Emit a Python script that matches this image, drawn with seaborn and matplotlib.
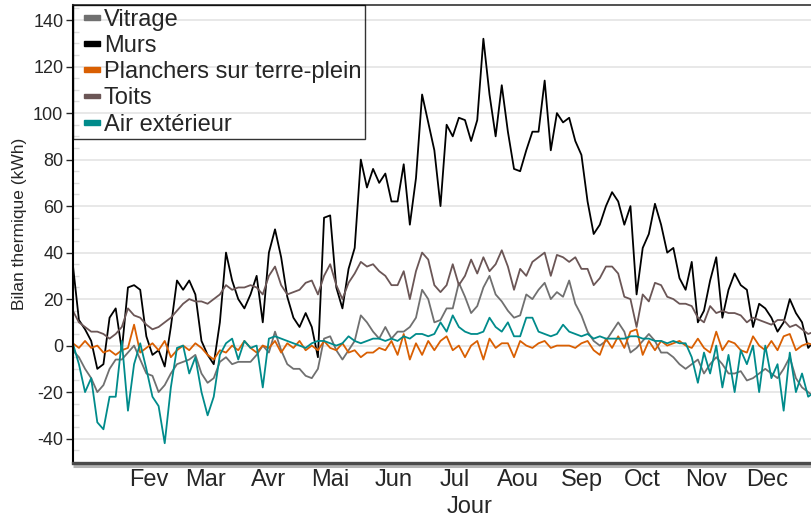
import numpy as np
import pandas as pd
import matplotlib
matplotlib.use('Agg')
import matplotlib.pyplot as plt
import seaborn as sns
from matplotlib.patches import Rectangle
from matplotlib.legend_handler import HandlerPatch
from matplotlib.ticker import MultipleLocator
from matplotlib.transforms import offset_copy

# jour de l'année (0 = 1er janvier), un point tous les 3 jours
jours = np.arange(-6, 358, 3)

vitrage = [-2, -5, -10, -14, -20, -17, -10, -6, -6, -3,
           0, -6, -12, -13, -20, -17, -12, -8, -7, -6,
           -4, -12, -16, -14, -7, -5, -8, -7, -7, -7,
           -4, 0, -3, 6, -2, -8, -10, -10, -13, -14,
           -10, 3, 4, -2, -6, -2, 2, 13, 10, 6,
           3, 8, 3, 6, 6, 8, 12, 24, 20, 10,
           11, 16, 16, 27, 21, 14, 17, 25, 30, 22,
           19, 15, 12, 13, 22, 20, 24, 27, 20, 23,
           21, 28, 18, 13, 6, 2, 0, 2, 6, 10,
           6, -3, -1, 2, 5, 2, -3, -3, -5, -8,
           -10, -8, -6, -12, -8, -5, -8, -12, -12, -11,
           -15, -14, -12, -10, -12, -14, -10, -5, -14, -18,
           -20, -22]

murs = [35, 11, 7, 2, -10, -8, 12, 16, -2, 25,
        26, 24, 4, -4, -2, -9, 8, 28, 24, 28,
        22, 2, -4, -8, 10, 40, 28, 20, 16, 22,
        30, 10, 40, 50, 38, 21, 12, 8, 14, 8,
        -5, 55, 56, 25, 16, 33, 42, 80, 68, 76,
        70, 74, 62, 62, 78, 52, 72, 108, 96, 84,
        60, 95, 90, 98, 97, 88, 97, 132, 108, 90,
        112, 92, 76, 75, 84, 92, 92, 114, 84, 100,
        96, 98, 88, 82, 62, 48, 52, 60, 66, 62,
        52, 60, 22, 42, 48, 61, 52, 40, 42, 29,
        24, 36, 10, 15, 28, 38, 12, 24, 31, 26,
        24, 8, 18, 16, 12, 6, 10, 20, 14, 10,
        -1, 2]

planchers = [1, -1, 2, -1, 0, -3, -2, -4, -2, -1,
             9, -3, -1, 1, -2, 2, -5, -2, 0, -2,
             1, -1, -4, -6, -2, -3, 0, -2, 2, -1,
             -3, 0, -1, 2, -3, 1, -1, 2, -2, 0,
             -2, 2, -1, -2, 1, -3, -2, -5, -3, -3,
             -1, -2, 2, -4, 5, -6, 1, -4, 2, -2,
             2, 4, -2, 0, -5, 0, 2, -6, 3, -1,
             1, 1, -5, 2, 0, -1, 1, 2, -1, 0,
             0, 0, -1, 1, 2, -2, -4, 3, -1, 4,
             -1, 6, 7, -4, 2, -2, 2, 0, 1, 2,
             0, -1, 3, -1, -3, 6, -2, 2, 1, -2,
             -3, 4, 0, -2, 2, -2, 4, 5, -2, 0,
             1, 0]

toits = [15, 10, 8, 6, 6, 5, 3, 5, 8, 16,
         13, 12, 9, 7, 8, 10, 12, 15, 18, 20,
         19, 19, 18, 20, 22, 26, 24, 25, 25, 26,
         25, 22, 30, 34, 26, 22, 23, 24, 27, 28,
         22, 30, 35, 26, 20, 27, 31, 36, 34, 35,
         32, 30, 26, 26, 32, 20, 32, 40, 37, 26,
         23, 26, 35, 26, 30, 37, 31, 38, 32, 35,
         41, 34, 24, 33, 30, 36, 38, 40, 30, 39,
         38, 36, 38, 33, 33, 26, 29, 34, 34, 31,
         21, 20, 8, 22, 19, 27, 26, 21, 20, 18,
         18, 17, 12, 10, 17, 14, 15, 14, 14, 13,
         10, 12, 11, 10, 9, 11, 11, 8, 9, 7,
         5, 6]

air_ext = [1, -8, -20, -14, -33, -36, -22, -22, 2, -28,
           -8, 1, -10, -22, -26, -42, -18, -1, 0, -12,
           -5, -20, -30, -22, -4, 1, 3, -6, 2, -1,
           0, -18, 3, 4, 3, 2, 1, 0, -1, 1,
           2, 2, 1, 0, 1, 4, 2, 1, 2, 3,
           3, 2, 3, 2, 4, 3, 5, 5, 4, 5,
           10, 6, 13, 8, 6, 5, 5, 6, 12, 8,
           6, 10, 4, 4, 12, 12, 6, 5, 4, 5,
           9, 6, 5, 4, 5, 3, 4, 3, 3, 3,
           3, 4, 4, 3, 3, 2, 2, 1, 2, 1,
           1, -5, -16, -3, -12, 0, -18, -4, -20, -2,
           -8, 0, -20, 0, -14, -8, -28, -3, -20, -12,
           -22, -20]

postes = ['Vitrage', 'Murs', 'Planchers sur terre-plein', 'Toits', 'Air extérieur']
couleurs = ['#707070', '#000000', '#d95f02', '#6b5656', '#008b8b']
mois_pos = [31, 59, 90, 120, 151, 181, 212, 243, 273, 304, 334]
mois_noms = ['Fev', 'Mar', 'Avr', 'Mai', 'Jun', 'Jul', 'Aou', 'Sep', 'Oct', 'Nov', 'Dec']

valeurs = [vitrage, murs, planchers, toits, air_ext]
df = pd.DataFrame({
    'Jour': np.tile(jours, len(postes)),
    'Bilan': np.concatenate(valeurs),
    'Poste': np.repeat(postes, len(jours)),
})

sns.set_style('white')
plt.rcParams['font.family'] = ['Liberation Sans', 'DejaVu Sans']
plt.rcParams['axes.unicode_minus'] = False

fig = plt.figure(figsize=(8.12, 5.2), dpi=100)
ax = fig.add_axes([73 / 812, 57 / 520, 794 / 812, 458 / 520])

sns.lineplot(data=df, x='Jour', y='Bilan', hue='Poste', hue_order=postes,
             palette=couleurs, estimator=None, lw=1.3, ax=ax, legend=False)

ax.set_xlim(-5.9, 382.8)
ax.set_ylim(-50.5, 146.5)
ax.set_yticks(range(-40, 141, 20))
ax.yaxis.set_minor_locator(MultipleLocator(5))
ax.grid(axis='y', which='major', color='#e2e2e2', lw=1.1)
ax.set_axisbelow(True)
ax.set_xticks(mois_pos)
ax.set_xticklabels(mois_noms)
ax.tick_params(axis='x', length=0, labelsize=17, pad=4)
ax.tick_params(axis='y', which='major', direction='out', length=5, width=1,
               labelsize=13, pad=2, left=True)
ax.tick_params(axis='y', which='minor', direction='in', length=4, width=1,
               color='#dddddd', left=True)

ax.set_xlabel('Jour', fontsize=17, labelpad=4)
ax.set_ylabel('Bilan thermique (kWh)', fontsize=12.5)
ax.yaxis.set_label_coords(-0.058, 0.522)

ax.spines['right'].set_visible(False)
ax.spines['top'].set_color('#333333')
ax.spines['top'].set_linewidth(1.2)
ax.spines['left'].set_color('black')
ax.spines['left'].set_linewidth(1.5)
ax.spines['bottom'].set_color('#4a4a4a')
ax.spines['bottom'].set_linewidth(2.4)
ombre = offset_copy(ax.transAxes, fig=fig, y=-2.6, units='dots')
ax.plot([0, 1], [0, 0], transform=ombre, color='#b4b4b4', lw=2.2,
        clip_on=False, solid_capstyle='butt')


def carre(legend, orig_handle, xdescent, ydescent, width, height, fontsize):
    return Rectangle((-xdescent + 0.3 * width, -ydescent + height / 2 - 1.7),
                     0.68 * width, 3.4)


poignees = [Rectangle((0, 0), 1, 1, color=c) for c in couleurs]
leg = ax.legend(poignees, postes, loc='upper left', bbox_to_anchor=(0, 1),
                borderaxespad=0, fontsize=17, frameon=True, fancybox=False,
                edgecolor='black', facecolor='none', handlelength=1.0,
                handletextpad=0.15, labelspacing=0.18, borderpad=0.15,
                handler_map={Rectangle: HandlerPatch(patch_func=carre)})
leg.get_frame().set_linewidth(1.0)

fig.savefig('out.png', dpi=100)
